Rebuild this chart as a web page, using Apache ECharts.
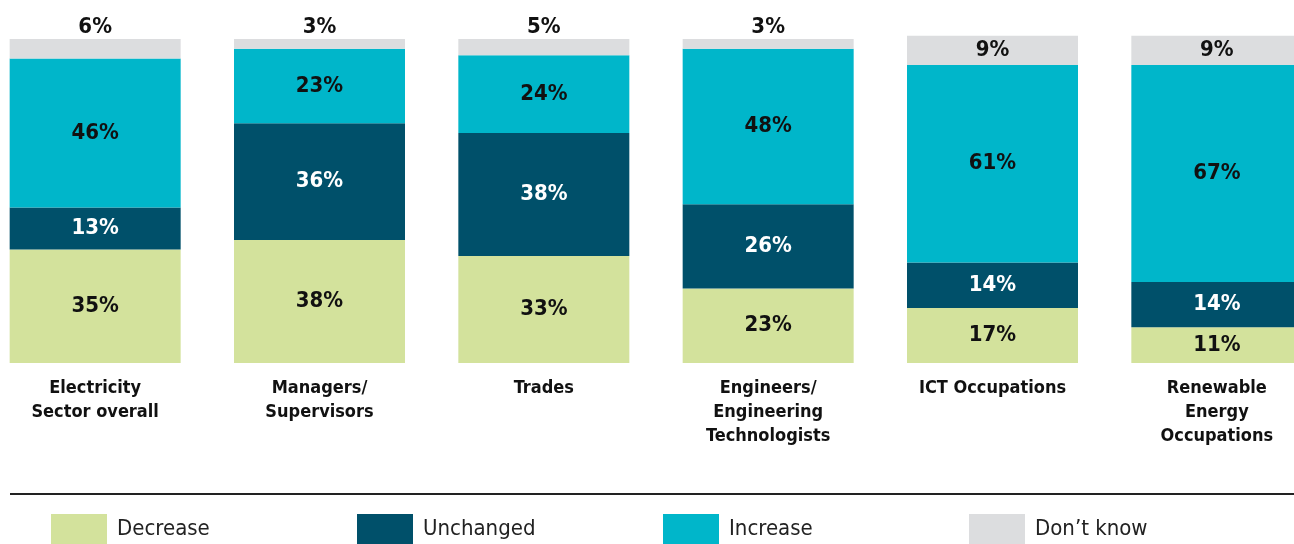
<!DOCTYPE html>
<html>
<head>
<meta charset="utf-8">
<script src="https://cdn.jsdelivr.net/npm/echarts@6/dist/echarts.min.js"></script>
<style>
  html, body { margin: 0; padding: 0; background: #fff; overflow: hidden; }
  /* plot is wider than the window: outer bars are cut by the page edge */
  #chart { width: 1346px; height: 544px; margin-left: -17px; }
</style>
</head>
<body>
<div id="chart"></div>
<script>
const categories = [
  'Electricity\nSector overall',
  'Managers/\nSupervisors',
  'Trades',
  'Engineers/\nEngineering\nTechnologists',
  'ICT Occupations',
  'Renewable\nEnergy\nOccupations'
];
const decrease = [35, 38, 33, 23, 17, 11];
const unchanged = [13, 36, 38, 26, 14, 14];
const increase = [46, 23, 24, 48, 61, 67];
const dontKnow = [6, 3, 5, 3, 9, 9];

const pctFont = { fontFamily: 'DejaVu Sans Condensed', fontWeight: 'bold', fontSize: 22 };
const fmt = p => p.value + '%';

const chart = echarts.init(document.getElementById('chart'));

function seg(name, values, color, textColor) {
  return {
    name: name,
    type: 'bar',
    stack: 'all',
    barWidth: 171,
    clip: false,
    data: values,
    itemStyle: { color: color },
    label: Object.assign({ show: true, position: 'inside', color: textColor, formatter: fmt }, pctFont),
    emphasis: { disabled: true }
  };
}

// small "don't know" values sit above the bar, larger ones inside
const dontKnowData = dontKnow.map(v => ({
  value: v,
  label: { position: v < 8 ? 'top' : 'inside', distance: 1 }
}));

const legendNames = ['Decrease', 'Unchanged', 'Increase', 'Don’t know'];
const legendLeft = [68, 374, 680, 986];

const option = {
  backgroundColor: '#fff',
  animation: false,
  grid: { left: 0, right: 0, top: 39, bottom: 181 },
  legend: legendNames.map((n, i) => ({
    data: [n],
    left: legendLeft[i],
    top: 514,
    padding: 0,
    icon: 'rect',
    itemWidth: 56,
    itemHeight: 30,
    selectedMode: false,
    textStyle: {
      fontFamily: 'DejaVu Sans Condensed',
      fontSize: 22,
      color: '#222',
      padding: [6, 0, 0, 5]
    }
  })),
  xAxis: {
    type: 'category',
    data: categories,
    axisLine: { show: false },
    axisTick: { show: false },
    axisLabel: {
      interval: 0,
      margin: 13,
      color: '#111',
      fontFamily: 'DejaVu Sans Condensed',
      fontWeight: 'bold',
      fontSize: 18,
      lineHeight: 24,
      align: 'center',
      verticalAlign: 'top'
    }
  },
  yAxis: {
    type: 'value',
    min: 0,
    max: 100,
    show: false,
    splitLine: { show: false }
  },
  graphic: [{
    type: 'line',
    shape: { x1: 27, y1: 494, x2: 1311, y2: 494 },
    style: { stroke: '#222', lineWidth: 2 }
  }],
  series: [
    seg('Decrease', decrease, '#d3e29c', '#111'),
    seg('Unchanged', unchanged, '#00506a', '#fff'),
    seg('Increase', increase, '#00b6ca', '#111'),
    seg('Don’t know', dontKnowData, '#dcdddf', '#111')
  ]
};

chart.setOption(option);
</script>
</body>
</html>
